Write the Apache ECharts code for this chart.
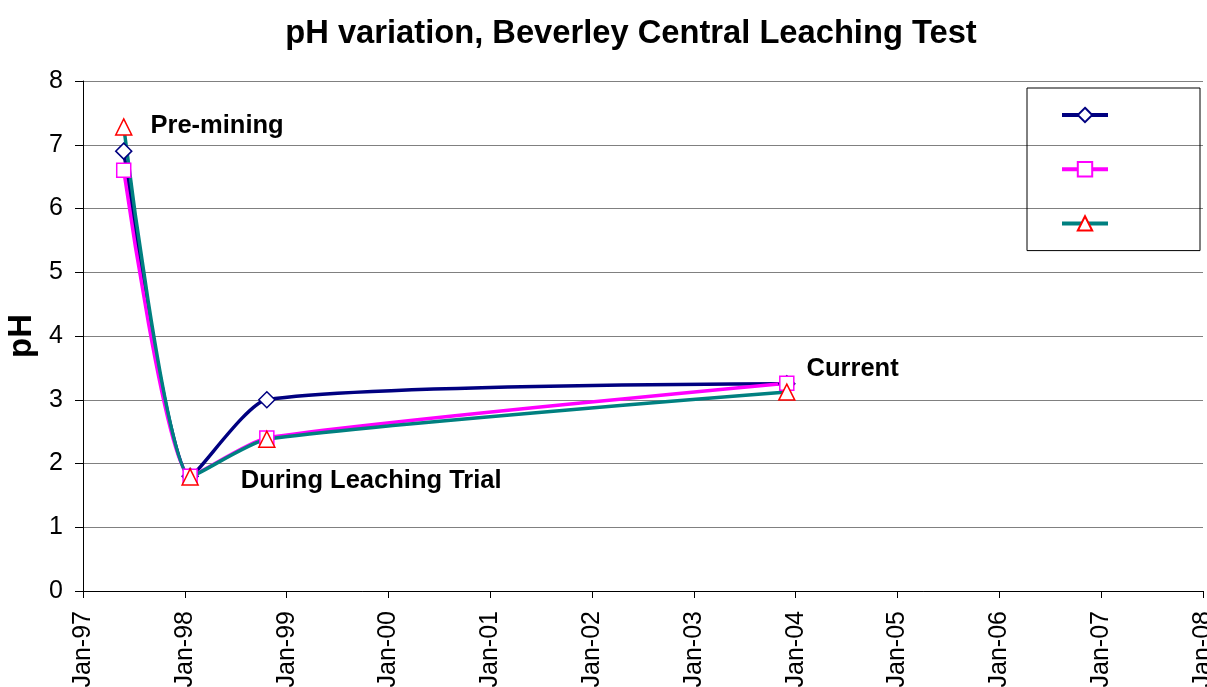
<!doctype html>
<html lang="en">
<head>
<meta charset="utf-8"/>
<title>pH variation, Beverley Central Leaching Test</title>
<style>
  html, body { margin: 0; padding: 0; background: #ffffff; }
  #chart { width: 1207px; height: 687px; }
</style>
</head>
<body>
<div id="chart"></div>
<script src="https://cdn.jsdelivr.net/npm/echarts@6/dist/echarts.min.js"></script>
<script>
  // sampling dates and pH readings
  const sampleDates = ["1997-05-27", "1998-01-20", "1998-10-22", "2003-11-30"];
  const seriesNames = ["Bore 1", "Bore 2", "Bore 3"];
  const phBore1 = [6.9, 1.8, 3.0, 3.25];
  const phBore2 = [6.6, 1.8, 2.4, 3.26];
  const phBore3 = [7.28, 1.79, 2.38, 3.12];
  const yearTicks = [1997, 2008];
  const phTicks = [0, 8];
  const notes = ["Pre-mining", "During Leaching Trial", "Current"];

  const FONT = "Liberation Sans, Arial, sans-serif";
  const SMOOTH = 0.2;

  // date string -> fractional year, so ticks land on every Jan 1
  const toYear = (s) => {
    const d = new Date(s + "T00:00:00Z");
    const y = d.getUTCFullYear();
    const start = Date.UTC(y, 0, 1);
    const end = Date.UTC(y + 1, 0, 1);
    return y + (d.getTime() - start) / (end - start);
  };

  const noteLabel = (text, distance, offset) => ({
    show: true,
    position: "right",
    distance,
    offset,
    formatter: text,
    color: "#000",
    fontFamily: FONT,
    fontWeight: "bold",
    fontSize: 25.5,
  });

  const pairs = (vals, labels) =>
    vals.map((v, i) => {
      const item = { value: [toYear(sampleDates[i]), v] };
      if (labels && labels[i]) item.label = labels[i];
      return item;
    });

  const option = {
    animation: false,
    backgroundColor: "#ffffff",
    title: {
      text: "pH variation, Beverley Central Leaching Test",
      left: 626,
      top: 12,
      textAlign: "center",
      textStyle: { fontFamily: FONT, fontWeight: "bold", fontSize: 32.7, color: "#000" },
    },
    legend: {
      orient: "vertical",
      left: 1027,
      top: 88,
      padding: [18, 90, 19, 33],
      itemWidth: 46,
      itemHeight: 18,
      itemGap: 37,
      borderColor: "#000",
      borderWidth: 1,
      lineStyle: { width: 4 },
      formatter: () => "",
      data: seriesNames,
    },
    grid: { left: 83, right: 4, top: 81, bottom: 96, containLabel: false, outerBoundsMode: "none" },
    xAxis: {
      type: "value",
      min: yearTicks[0],
      max: yearTicks[1],
      interval: 1,
      axisLine: { lineStyle: { color: "#000", width: 1 } },
      axisTick: { length: 7, lineStyle: { color: "#000" } },
      splitLine: { show: false },
      axisLabel: {
        rotate: 90,
        margin: 20,
        color: "#000",
        fontFamily: FONT,
        fontSize: 25,
        hideOverlap: false,
        showMaxLabel: true,
        formatter: (v) => "Jan-" + String(Math.round(v)).slice(2),
      },
    },
    yAxis: {
      type: "value",
      min: phTicks[0],
      max: phTicks[1],
      interval: 1,
      name: "pH",
      nameLocation: "middle",
      nameGap: 40,
      nameTextStyle: { fontFamily: FONT, fontWeight: "bold", fontSize: 33, color: "#000" },
      axisLine: { show: true, lineStyle: { color: "#000", width: 1 } },
      axisTick: { show: true, length: 8, lineStyle: { color: "#000" } },
      splitLine: { lineStyle: { color: "#808080", width: 1 } },
      axisLabel: { margin: 20, color: "#000", fontFamily: FONT, fontSize: 25 },
    },
    series: [
      {
        name: seriesNames[0],
        type: "line",
        smooth: SMOOTH,
        symbol: "diamond",
        symbolSize: 16,
        lineStyle: { color: "#000080", width: 3.5 },
        itemStyle: { color: "#ffffff", borderColor: "#000080", borderWidth: 1.5 },
        data: pairs(phBore1, [null, null, null, noteLabel(notes[2], 11, [0, -15])]),
      },
      {
        name: seriesNames[1],
        type: "line",
        smooth: SMOOTH,
        symbol: "rect",
        symbolSize: 14,
        lineStyle: { color: "#ff00ff", width: 3.5 },
        itemStyle: { color: "#ffffff", borderColor: "#ff00ff", borderWidth: 1.5 },
        data: pairs(phBore2),
      },
      {
        name: seriesNames[2],
        type: "line",
        smooth: SMOOTH,
        symbol: "triangle",
        symbolSize: 16,
        lineStyle: { color: "#008080", width: 3.5 },
        itemStyle: { color: "#ffffff", borderColor: "#ff0000", borderWidth: 1.5 },
        data: pairs(phBore3, [noteLabel(notes[0], 18, [0, -1]), noteLabel(notes[1], 42, [0, 4]), null, null]),
      },
    ],
  };

  const chart = echarts.init(document.getElementById("chart"), null, { renderer: "canvas" });
  chart.setOption(option);
</script>
</body>
</html>
